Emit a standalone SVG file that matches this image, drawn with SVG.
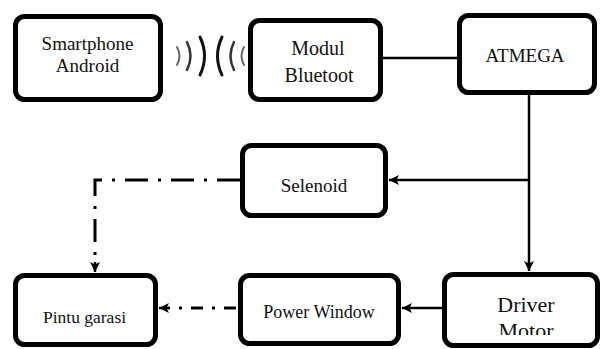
<svg xmlns="http://www.w3.org/2000/svg" width="604" height="349" viewBox="0 0 604 349">
<style>
.box{fill:none;stroke:#000;stroke-width:5}
.t{font-family:"Liberation Serif","Times New Roman",serif;fill:#111;text-anchor:middle}
.ln{fill:none;stroke:#000;stroke-width:2.5}
.dd{fill:none;stroke:#000;stroke-width:3;stroke-dasharray:23 10 3 10}
.dd2{fill:none;stroke:#000;stroke-width:3;stroke-dasharray:12 9 3 9}
.wave{fill:none;stroke-linecap:round}
</style>
<defs>
<marker id="ah" markerUnits="userSpaceOnUse" markerWidth="12" markerHeight="10" refX="10" refY="5" orient="auto">
<path d="M0,0 L10,5 L0,10 L2.5,5 Z" fill="#000"/>
</marker>
<clipPath id="clipMotor"><rect x="444" y="276" width="154" height="59"/></clipPath>
</defs>
<g id="connectors">
<line class="ln" x1="383" y1="58" x2="457" y2="58"/>
<line class="ln" x1="529" y1="95" x2="529" y2="271" marker-end="url(#ah)"/>
<line class="ln" x1="529" y1="180" x2="389" y2="180" marker-end="url(#ah)"/>
<line class="ln" x1="442" y1="308" x2="402" y2="308" marker-end="url(#ah)"/>
<path class="dd" d="M240,180 H95 V262"/>
<line class="ln" x1="95" y1="262" x2="95" y2="272" marker-end="url(#ah)"/>
<line class="dd2" x1="236" y1="308" x2="168" y2="308"/>
<line class="ln" x1="168" y1="308" x2="159" y2="308" marker-end="url(#ah)"/>
<g id="wireless">
<path class="wave" stroke="#666" stroke-width="2" d="M177,47 Q182,56 177,65"/>
<path class="wave" stroke="#333" stroke-width="2.5" d="M187,42 Q194,56 187,70"/>
<path class="wave" stroke="#111" stroke-width="3" d="M200,37 Q209,56 200,75"/>
<path class="wave" stroke="#111" stroke-width="3" d="M222,37 Q213,56 222,75"/>
<path class="wave" stroke="#333" stroke-width="2.5" d="M234,42 Q227,56 234,70"/>
<path class="wave" stroke="#666" stroke-width="2" d="M244,47 Q239,56 244,65"/>
</g>
</g>
<g id="smartphone">
<rect class="box" x="15.5" y="16.5" width="145" height="83" rx="9"/>
<text class="t" x="87.5" y="50" font-size="19">Smartphone</text>
<text class="t" x="87.5" y="72" font-size="19">Android</text>
</g>
<g id="bluetooth">
<rect class="box" x="250.5" y="20.5" width="130" height="79" rx="9"/>
<text class="t" x="318" y="55" font-size="20">Modul</text>
<text class="t" x="319" y="82" font-size="20">Bluetoot</text>
</g>
<g id="atmega">
<rect class="box" x="459.5" y="15.5" width="135" height="77" rx="9"/>
<text class="t" x="525" y="62" font-size="19">ATMEGA</text>
</g>
<g id="selenoid">
<rect class="box" x="242.5" y="145.5" width="143" height="70" rx="9"/>
<text class="t" x="314" y="192" font-size="19">Selenoid</text>
</g>
<g id="pintu">
<rect class="box" x="15.5" y="275.5" width="140" height="69" rx="9"/>
<text class="t" x="84.5" y="323" font-size="17.5">Pintu garasi</text>
</g>
<g id="powerwindow">
<rect class="box" x="240.5" y="275.5" width="158" height="68" rx="9"/>
<text class="t" x="319" y="318" font-size="18">Power Window</text>
</g>
<g id="driver">
<rect class="box" x="444.5" y="274.5" width="153" height="71" rx="9"/>
<text class="t" x="526" y="312" font-size="22">Driver</text>
<text class="t" x="526" y="338" font-size="22" clip-path="url(#clipMotor)">Motor</text>
</g>
</svg>
